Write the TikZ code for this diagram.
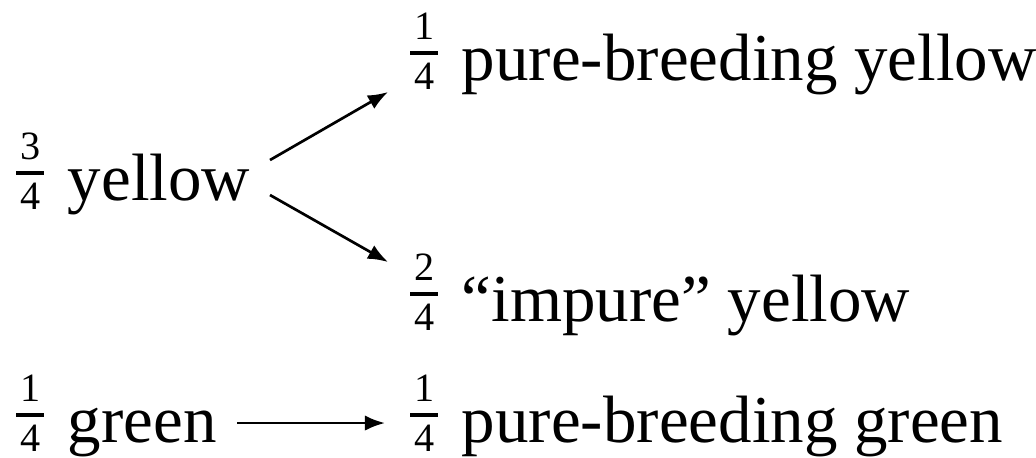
\documentclass[tikz,border=0pt]{standalone}
\usepackage{fontspec}
\setmainfont{Liberation Serif}
\newfontfamily\fracfont{Liberation Serif}
\usetikzlibrary{arrows.meta}

% small stacked fraction: numerator, bar, denominator, then a gap
\newcommand\fr[2]{{\fracfont\fontsize{6}{6}\selectfont
  \rlap{\makebox[4.2pt]{\raisebox{6.1pt}{#1}}}%
  \rlap{\makebox[4.2pt]{\raisebox{-1.4pt}{#2}}}%
  \rule[3.75pt]{4.2pt}{0.55pt}}\hspace{3.5pt}}

\tikzset{
  txt/.style={anchor=base west, inner sep=0pt, font=\rmfamily\fontsize{10}{12}\selectfont},
  arr/.style={-{Latex[length=3pt,width=2.3pt]}, line width=0.4pt}
}

\begin{document}
\begin{tikzpicture}[x={(0.1493pt,0)}, y={(0,-0.1493pt)}]
  \useasboundingbox (0,0) rectangle (1036,457);

  \node[txt] (yel)  at (15,200)  {\fr{3}{4}yellow};
  \node[txt] (pyel) at (409,80)  {\fr{1}{4}pure-breeding yellow};
  \node[txt] (iyel) at (409,321) {\fr{2}{4}“impure” yellow};
  \node[txt] (grn)  at (15,442)  {\fr{1}{4}green};
  \node[txt] (pgrn) at (409,442) {\fr{1}{4}pure-breeding green};

  \draw[arr] ([shift={(255,-40)}]yel.base west) -- ([shift={(-21,12)}]pyel.base west);
  \draw[arr] ([shift={(255,-5)}]yel.base west) -- ([shift={(-21,-59)}]iyel.base west);
  \draw[arr] ([shift={(222,-19)}]grn.base west) -- ([shift={(-24,-19)}]pgrn.base west);
\end{tikzpicture}
\end{document}
